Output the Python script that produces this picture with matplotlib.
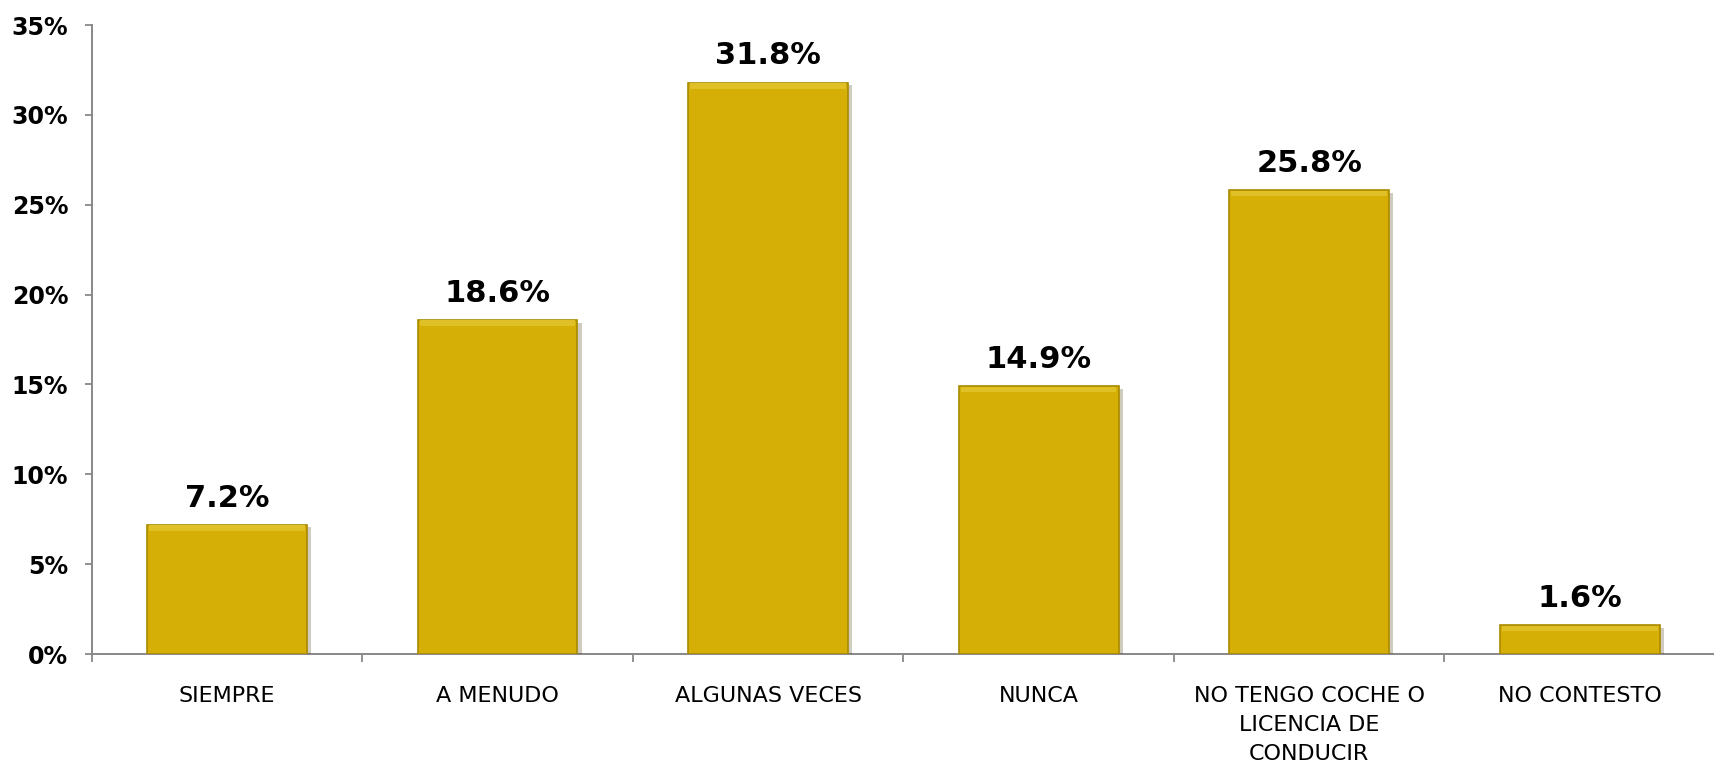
import matplotlib
matplotlib.use("Agg")
import matplotlib.pyplot as plt
import matplotlib.patheffects as pe
import numpy as np

categories = ["SIEMPRE", "A MENUDO", "ALGUNAS VECES", "NUNCA",
              "NO TENGO COCHE O\nLICENCIA DE\nCONDUCIR", "NO CONTESTO"]
values = [7.2, 18.6, 31.8, 14.9, 25.8, 1.6]
y_ticks = [0, 5, 10, 15, 20, 25, 30, 35]

plt.rcParams['font.family'] = ['DejaVu Sans']

fig = plt.figure(figsize=(17.15, 7.67), dpi=100)
ax = fig.add_axes([0.0536, 0.1473, 0.9464, 0.8201])

x = np.arange(len(categories))
bars = ax.bar(x, values, width=0.59, color="#D5AF05", edgecolor="#A98A00",
              linewidth=1.2, zorder=3)
for b in bars:
    b.set_path_effects([pe.SimplePatchShadow(offset=(3, -2), alpha=0.25),
                        pe.Normal()])

# lighter top bevel strip
ax.bar(x, [0.3] * len(values), bottom=[v - 0.34 for v in values], width=0.575,
       color="#E0C027", linewidth=0, zorder=4)

for xi, v in zip(x, values):
    ax.annotate(f"{v:.1f}%", xy=(xi, v), xytext=(0, 13), textcoords="offset points",
                ha="center", va="baseline", fontsize=22, fontweight="bold")

ax.set_xlim(-0.5, len(categories) - 0.5)
ax.set_ylim(0, 35)
ax.set_yticks(y_ticks)
ax.set_yticklabels([f"{t}%" for t in y_ticks], fontsize=17, fontweight="bold")

ax.set_xticks(x)
ax.set_xticklabels(categories, fontsize=16, linespacing=1.55, va="top")
ax.set_xticks(np.arange(len(categories) + 1) - 0.5, minor=True)
ax.tick_params(axis="x", which="major", length=0, pad=23)
ax.tick_params(axis="x", which="minor", length=6, width=1.3, color="#888888", direction="out")
ax.tick_params(axis="y", length=5, width=1.3, color="#888888", pad=12)

for s in ["top", "right"]:
    ax.spines[s].set_visible(False)
for s in ["left", "bottom"]:
    ax.spines[s].set_color("#888888")
    ax.spines[s].set_linewidth(1.4)

fig.savefig("out.png", dpi=100)
